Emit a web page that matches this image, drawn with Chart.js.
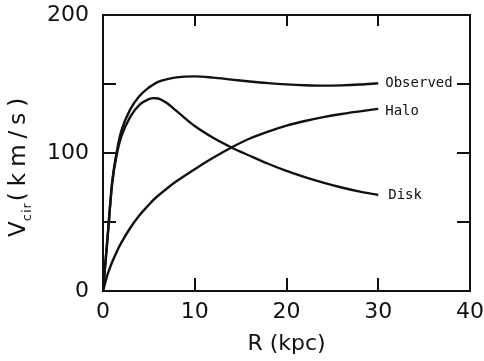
<!DOCTYPE html>
<html>
<head>
<meta charset="utf-8">
<script src="https://cdn.jsdelivr.net/npm/chart.js@4/dist/chart.umd.min.js"></script>
<style>
  html, body { margin: 0; padding: 0; background: #fff; }
  #wrap { width: 484px; height: 361px; }
</style>
</head>
<body>
<div id="wrap"><canvas id="c" width="484" height="361"></canvas></div>
<script>
// ---- data ----
const radius   = [0, 0.5, 1, 1.5, 2, 3, 4, 5, 5.5, 6, 7, 8, 10, 12, 14, 16, 18, 20, 22, 24, 26, 28, 30];
const observed = [0, 39, 79, 101, 116, 132, 141.5, 147.5, 149.7, 151.5, 153.5, 154.8, 155.5, 154.6, 153.2, 151.8, 150.6, 149.7, 149.1, 148.8, 149, 149.6, 150.5];
const disk     = [0, 39, 78, 99, 112, 126.5, 135, 139.1, 139.8, 139.5, 136, 130.5, 119.5, 111, 104, 98, 92.2, 87, 82.5, 78.5, 75, 72, 69.6];
const halo     = [0, 12, 21, 28.5, 35, 46, 55, 62.5, 66, 69, 74.5, 79.5, 88.3, 96.5, 104, 110.5, 115.5, 119.8, 123.2, 126, 128.3, 130.2, 132];
const seriesNames = ['Observed', 'Halo', 'Disk'];
const xTicks = [0, 10, 20, 30, 40];
const yLabelTicks = [0, 100, 200];
const minorYTicks = [50, 100, 150];
const minorXTicks = [10, 20, 30];

const toPts = (vals) => radius.map((r, i) => ({ x: r, y: vals[i] }));

const lineStyle = {
  borderColor: '#111',
  borderWidth: 2.4,
  pointRadius: 0,
  fill: false,
  cubicInterpolationMode: 'monotone'
};

const frame = {
  id: 'frame',
  afterDraw(chart) {
    const ctx = chart.ctx;
    const a = chart.chartArea;
    const xs = chart.scales.x, ys = chart.scales.y;
    ctx.save();
    ctx.strokeStyle = '#111';
    ctx.lineWidth = 2;
    // top & right border
    ctx.beginPath();
    ctx.moveTo(a.left, a.top); ctx.lineTo(a.right, a.top); ctx.lineTo(a.right, a.bottom);
    ctx.stroke();
    // inward ticks
    ctx.beginPath();
    minorYTicks.forEach(v => {
      const y = Math.round(ys.getPixelForValue(v));
      ctx.moveTo(a.left, y); ctx.lineTo(a.left + 13, y);
      ctx.moveTo(a.right, y); ctx.lineTo(a.right - 13, y);
    });
    minorXTicks.forEach(v => {
      const x = Math.round(xs.getPixelForValue(v));
      ctx.moveTo(x, a.bottom); ctx.lineTo(x, a.bottom - 13);
      ctx.moveTo(x, a.top); ctx.lineTo(x, a.top + 11);
    });
    ctx.stroke();

    // series labels at line ends
    ctx.fillStyle = '#111';
    ctx.font = '14px "DejaVu Sans Mono"';
    ctx.textBaseline = 'middle';
    ctx.textAlign = 'left';
    const lastX = xs.getPixelForValue(radius[radius.length - 1]);
    const ends = [observed, halo, disk];
    const dy = [0, 3, 0];
    const dx = [7, 7, 10];
    ends.forEach((arr, i) => {
      ctx.fillText(seriesNames[i], lastX + dx[i], ys.getPixelForValue(arr[arr.length - 1]) + dy[i]);
    });

    // y-axis title with subscript
    ctx.translate(25, 237);
    ctx.rotate(-Math.PI / 2);
    ctx.textBaseline = 'alphabetic';
    ctx.font = '23px "DejaVu Sans"';
    ctx.letterSpacing = '0px';
    ctx.fillText('V', 0, 0);
    let w = ctx.measureText('V').width;
    ctx.font = '13px "DejaVu Sans"';
    ctx.letterSpacing = '1px';
    ctx.fillText('cir', w, 6);
    w += ctx.measureText('cir').width + 1;
    ctx.font = '23px "DejaVu Sans"';
    ctx.letterSpacing = '6px';
    ctx.fillText('(km/s)', w, 0);
    ctx.restore();
  }
};

new Chart(document.getElementById('c'), {
  type: 'line',
  data: {
    datasets: [
      Object.assign({ label: seriesNames[0], data: toPts(observed) }, lineStyle),
      Object.assign({ label: seriesNames[1], data: toPts(halo) }, lineStyle),
      Object.assign({ label: seriesNames[2], data: toPts(disk) }, lineStyle)
    ]
  },
  options: {
    responsive: false,
    animation: false,
    devicePixelRatio: 1,
    layout: { padding: { left: 0, right: 14, top: 15, bottom: 0 } },
    plugins: { legend: { display: false }, tooltip: { enabled: false } },
    scales: {
      x: {
        type: 'linear', min: 0, max: 40,
        afterFit: s => { s.height = 70; s.paddingLeft = 0; s.paddingRight = 0; },
        afterBuildTicks: s => { s.ticks = xTicks.map(v => ({ value: v })); },
        grid: { display: false, drawTicks: false },
        border: { display: true, color: '#111', width: 2 },
        ticks: { color: '#111', padding: 8, maxRotation: 0, font: { family: 'DejaVu Sans', size: 22 } },
        title: { display: true, text: 'R (kpc)', color: '#111', padding: { top: 0, bottom: 4 },
                 font: { family: 'DejaVu Sans', size: 22 } }
      },
      y: {
        type: 'linear', min: 0, max: 200,
        afterFit: s => { s.width = 103; s.paddingTop = 0; s.paddingBottom = 0; },
        afterBuildTicks: s => { s.ticks = yLabelTicks.map(v => ({ value: v })); },
        grid: { display: false, drawTicks: false },
        border: { display: true, color: '#111', width: 2 },
        ticks: { color: '#111', padding: 14, font: { family: 'DejaVu Sans', size: 22 } }
      }
    }
  },
  plugins: [frame]
});
</script>
</body>
</html>
